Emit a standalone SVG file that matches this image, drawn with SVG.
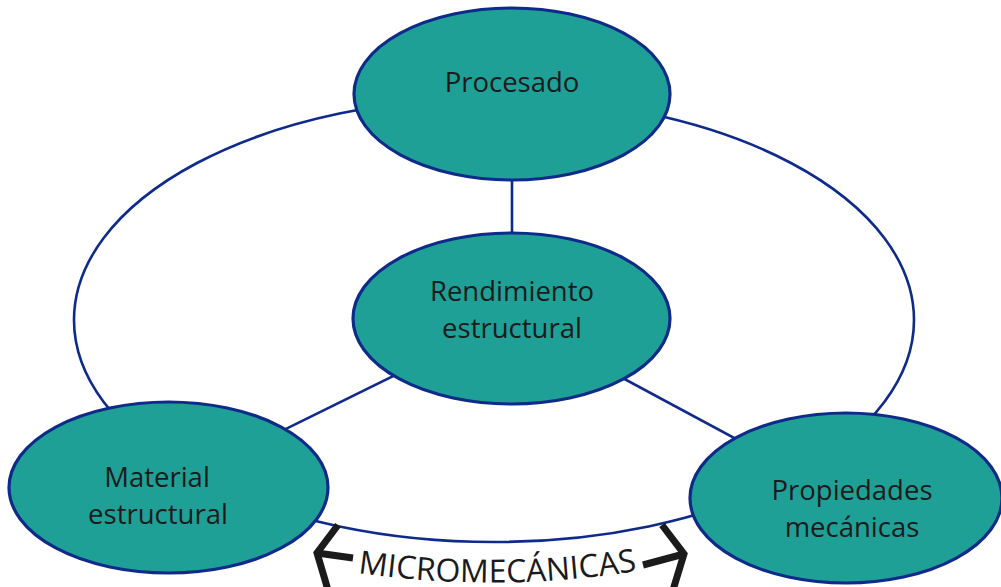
<svg xmlns="http://www.w3.org/2000/svg" width="1001" height="587" viewBox="0 0 1001 587">
<style>
.node{fill:#1fa097;stroke:#0f2b8a;stroke-width:3.2}
.conn{fill:none;stroke:#0f2b8a;stroke-width:2.6}
.lbl{font-family:"Open Sans","Liberation Sans",sans-serif;font-size:27.5px;fill:#1b1b1b;text-anchor:middle}
.br{fill:none;stroke:#1b1b1b;stroke-width:7;stroke-linejoin:miter;stroke-linecap:butt}
</style>
<rect width="1001" height="587" fill="#ffffff"/>
<g id="connectors">
<ellipse class="conn" cx="494" cy="320" rx="420" ry="222"/>
<line class="conn" x1="512" y1="94" x2="512" y2="318"/>
<line class="conn" x1="511" y1="318" x2="168" y2="487"/>
<line class="conn" x1="511" y1="318" x2="846" y2="498"/>
</g>
<g id="procesado">
<ellipse class="node" cx="512" cy="94" rx="158" ry="86"/>
<text class="lbl" x="512" y="92">Procesado</text>
</g>
<g id="rendimiento">
<ellipse class="node" cx="511.5" cy="318.5" rx="158.5" ry="85.5"/>
<text class="lbl" x="512" y="301">Rendimiento</text>
<text class="lbl" x="512" y="338">estructural</text>
</g>
<g id="material">
<ellipse class="node" cx="168.5" cy="487.5" rx="159.5" ry="85.5"/>
<text class="lbl" x="157" y="487">Material</text>
<text class="lbl" x="158" y="524">estructural</text>
</g>
<g id="propiedades">
<ellipse class="node" cx="846" cy="498" rx="156" ry="85"/>
<text class="lbl" x="852" y="500">Propiedades</text>
<text class="lbl" x="852" y="537">mecánicas</text>
</g>
<g id="micromecanicas">
<defs>
<path id="arcPath" d="M 352 572 Q 497 594 643 570"/>
</defs>
<polyline class="br" points="338,525 317,553 328,590"/>
<line class="br" x1="317" y1="553" x2="353" y2="558"/>
<polyline class="br" points="662,525 684,554 673,590"/>
<line class="br" x1="684" y1="554" x2="643" y2="565"/>
<text font-family="'Open Sans','Liberation Sans',sans-serif" font-size="32" fill="#1b1b1b" text-anchor="middle"><textPath href="#arcPath" startOffset="50%">MICROMECÁNICAS</textPath></text>
</g>
</svg>
